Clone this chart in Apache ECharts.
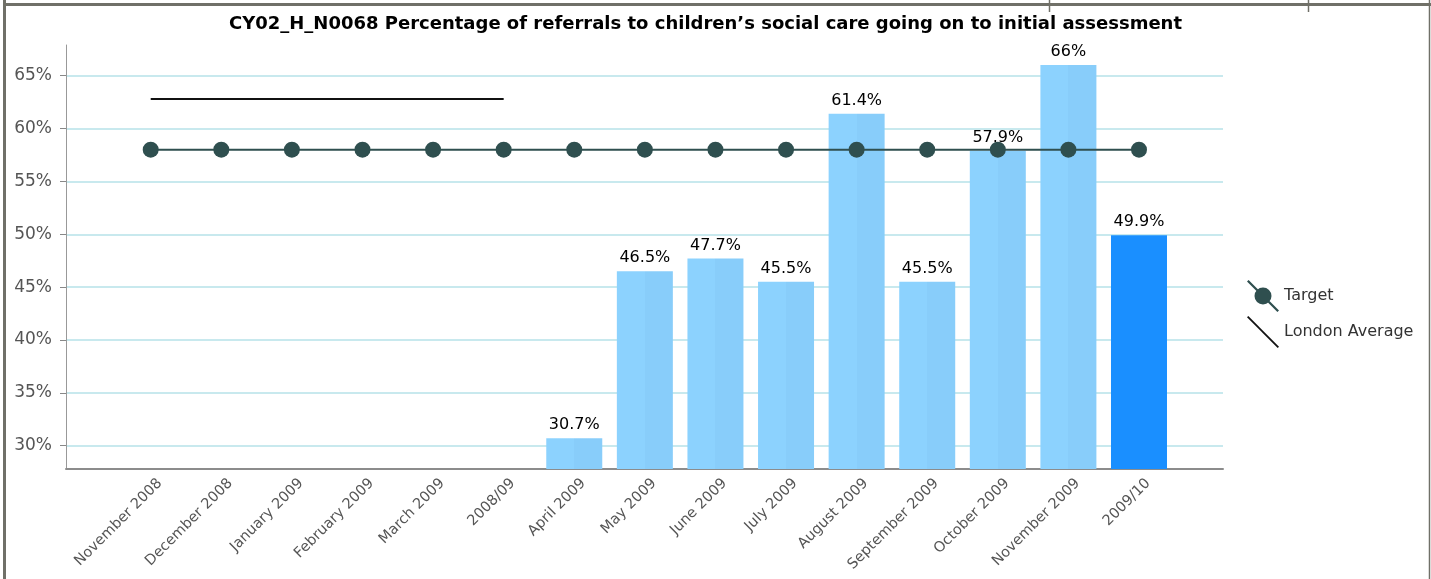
<!DOCTYPE html>
<html>
<head>
<meta charset="utf-8">
<script src="https://cdn.jsdelivr.net/npm/echarts@6/dist/echarts.min.js"></script>
<style>
html,body{margin:0;padding:0;background:#fff;}
#main{width:1431px;height:579px;}
</style>
</head>
<body>
<div id="main"></div>
<script>
const categories = ['November 2008','December 2008','January 2009','February 2009','March 2009','2008/09','April 2009','May 2009','June 2009','July 2009','August 2009','September 2009','October 2009','November 2009','2009/10'];
const barValues = [null,null,null,null,null,null,30.7,46.5,47.7,45.5,61.4,45.5,57.9,66,49.9];
const targetValues = [58,58,58,58,58,58,58,58,58,58,58,58,58,58,58];
const londonValues = [62.8,62.8,62.8,62.8,62.8,62.8,null,null,null,null,null,null,null,null,null];
const yTicks = [30,35,40,45,50,55,60,65];
const highlightCategory = '2009/10';

const idx = categories.map((c,i)=>i);
const lightFill = {type:'linear',x:0,y:0,x2:1,y2:0,colorStops:[{offset:0,color:'#8cd2fe'},{offset:0.5,color:'#8cd2fe'},{offset:0.5,color:'#88cdfa'},{offset:1,color:'#88cdfa'}]};

const chart = echarts.init(document.getElementById('main'));
const font = 'DejaVu Sans';
chart.setOption({
  animation:false,
  backgroundColor:'#fff',
  title:{
    text:'CY02_H_N0068 Percentage of referrals to children\u2019s social care going on to initial assessment',
    left:224, top:10,
    textStyle:{fontFamily:'DejaVu Sans',fontWeight:'bold',fontSize:18,color:'#000'}
  },
  legend:{
    orient:'vertical', left:1242, top:275, itemWidth:32, itemHeight:32, itemGap:4,
    textStyle:{fontFamily:font,fontSize:16,color:'#333'},
    data:[
      {name:'Target',icon:'path://M0,1.6 L1.6,0 L32,30.4 L30.4,32 Z M7.5,16 A8.5,8.5 0 1,1 24.5,16 A8.5,8.5 0 1,1 7.5,16 Z',itemStyle:{color:'#2f4f4f'}},
      {name:'London Average',icon:'path://M0,1.3 L1.3,0 L32,30.7 L30.7,32 Z',itemStyle:{color:'#111'}}
    ]
  },
  grid:{left:66,top:45,right:208,bottom:110},
  xAxis:{
    type:'value', min:-1.2, max:15.19,
    axisLine:{show:true,onZero:false,lineStyle:{color:'#8c8c8c',width:2}},
    axisTick:{show:false},
    splitLine:{show:false},
    axisLabel:{
      customValues:idx.map(i=>i+0.13), rotate:45, margin:12,
      fontFamily:font,fontSize:14.5,color:'#555',
      formatter:(v)=>categories[Math.round(v)]
    }
  },
  yAxis:{
    type:'value', min:27.8, max:67.9,
    axisLine:{show:true,onZero:false,lineStyle:{color:'#999',width:1}},
    axisTick:{show:true,customValues:yTicks,length:6,lineStyle:{color:'#888'}},
    splitLine:{show:true,lineStyle:{color:'#b6e2e9',width:1.5}},
    axisLabel:{customValues:yTicks,margin:14,fontFamily:font,fontSize:17,color:'#555',formatter:(v)=>v+'%'}
  },
  series:[
    {
      name:'Value', type:'bar', barWidth:56,
      data:barValues.map((v,i)=>v==null?null:{value:[i,v],itemStyle:{color: categories[i]===highlightCategory?'#1a8fff':lightFill}}),
      label:{show:true,position:'top',distance:5,fontFamily:font,fontSize:16,color:'#000',formatter:(p)=>p.value[1]+'%'}
    },
    {
      name:'Target', type:'line', data:targetValues.map((v,i)=>[i,v]),
      symbol:'circle', symbolSize:16, lineStyle:{color:'#2f4f4f',width:2}, itemStyle:{color:'#2f4f4f'}
    },
    {
      name:'London Average', type:'line', data:londonValues.map((v,i)=>[i,v]),
      showSymbol:false, symbol:'none', lineStyle:{color:'#111',width:2}, itemStyle:{color:'#111'}
    }
  ],
  graphic:[
    {type:'line',shape:{x1:5,y1:4.5,x2:1431,y2:4.5},style:{stroke:'#707068',lineWidth:3}},
    {type:'line',shape:{x1:4.5,y1:0,x2:4.5,y2:579},style:{stroke:'#707068',lineWidth:3}},
    {type:'line',shape:{x1:1429.5,y1:0,x2:1429.5,y2:579},style:{stroke:'#707068',lineWidth:1.5}},
    {type:'line',shape:{x1:1049.5,y1:0,x2:1049.5,y2:12},style:{stroke:'#707068',lineWidth:1.5}},
    {type:'line',shape:{x1:1308.5,y1:0,x2:1308.5,y2:12},style:{stroke:'#707068',lineWidth:1.5}}
  ]
});
</script>
</body>
</html>
